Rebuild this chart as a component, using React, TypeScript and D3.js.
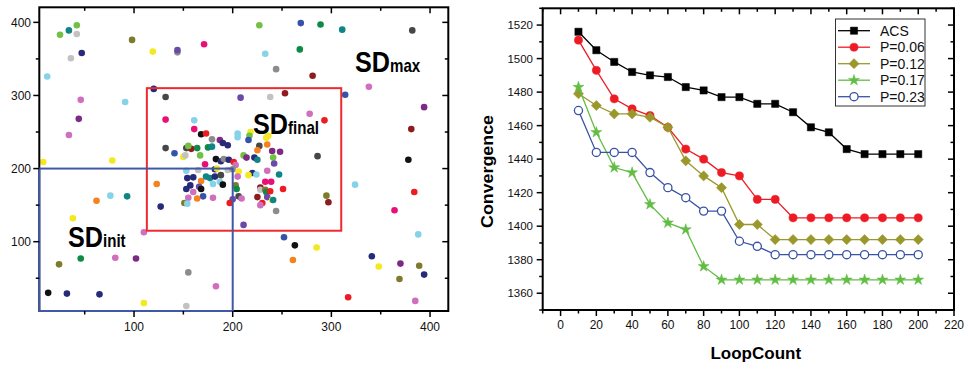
import * as d3 from 'd3'

// ── left panel: scatter of agents and search domains ───────────────
const palette: Record<string, string> = {
  k: '#111111', dg: '#474747', g: '#8c8c8c', lg: '#c2c2c2',
  r: '#ed1c24', dr: '#8e1b1e', dp: '#ea0f77', o: '#cf6fbd',
  pu: '#7d2a85', sp: '#6a4aa9', n: '#262a78', b: '#3553a8',
  t: '#0f8585', gr: '#0e8a46', lgr: '#74c044', ol: '#7e7c2c',
  y: '#f4e81e', or: '#f5821f', lb: '#86d2e8',
}

// [x, y, colour key]
const agents: [number, number, string][] = [
  [25, 383, 'lgr'], [34, 389, 't'], [42, 396, 'lgr'], [42, 384, 'lg'], [36, 351, 'lg'],
  [47, 358, 'n'], [12, 326, 'lb'], [46, 294, 'o'], [44, 268, 'pu'], [34, 246, 'o'],
  [8, 209, 'y'], [98, 376, 'ol'], [119, 360, 'y'], [144, 359, 'g'], [144, 362, 'sp'],
  [171, 370, 'dp'], [91, 291, 'lb'], [78, 211, 'y'], [120, 309, 'n'], [132, 298, 'dg'],
  [132, 267, 'dp'], [132, 228, 'dg'], [227, 396, 'lgr'], [269, 399, 'b'], [289, 397, 'gr'],
  [311, 390, 't'], [382, 389, 'dg'], [233, 357, 'lb'], [268, 363, 'gr'], [244, 336, 'g'],
  [281, 327, 'dr'], [253, 303, 'dr'], [238, 298, 'lg'], [208, 297, 'sp'], [314, 301, 'b'],
  [338, 312, 'o'], [394, 284, 'pu'], [381, 254, 'dr'], [278, 275, 'o'], [293, 266, 'r'],
  [286, 217, 'dg'], [378, 212, 'k'],
  [161, 266, 'lb'], [161, 254, 'dp'], [168, 247, 'k'], [173, 248, 'r'], [179, 240, 'g'],
  [187, 239, 'pu'], [190, 235, 'n'], [195, 232, 'n'], [153, 228, 'dg'], [158, 227, 'dr'],
  [155, 231, 'lgr'], [164, 228, 'gr'], [175, 229, 'gr'], [179, 230, 't'], [141, 221, 'b'],
  [150, 216, 'y'], [152, 218, 'lg'], [167, 218, 'lgr'], [183, 213, 'k'], [188, 210, 'n'],
  [191, 213, 'g'], [196, 212, 'n'], [201, 209, 'r'], [172, 206, 'dp'], [205, 248, 'lb'],
  [205, 243, 'lb'], [218, 250, 'y'], [217, 245, 'lgr'], [216, 239, 'b'], [234, 242, 'y'],
  [236, 245, 'y'], [227, 231, 'dg'], [225, 225, 'or'], [235, 233, 'or'], [240, 224, 'pu'],
  [248, 223, 'pu'], [211, 218, 'lgr'], [214, 215, 'pu'], [222, 215, 'n'], [225, 212, 't'],
  [241, 215, 'lgr'], [242, 207, 'sp'], [203, 205, 'o'], [153, 197, 'lb'], [165, 198, 'lg'],
  [182, 199, 'n'], [184, 200, 'y'], [195, 198, 'lg'], [200, 199, 'g'], [206, 196, 'y'],
  [205, 189, 'o'], [220, 194, 'n'], [224, 192, 'lb'], [216, 191, 'y'], [235, 197, 'o'],
  [247, 192, 't'], [123, 179, 'or'], [154, 187, 'n'], [160, 188, 'n'], [168, 183, 'or'],
  [173, 189, 't'], [177, 187, 't'], [182, 189, 'n'], [188, 191, 'dg'], [180, 179, 'lb'],
  [187, 182, 'lb'], [190, 178, 'k'], [157, 177, 'n'], [166, 175, 'sp'], [168, 172, 'k'],
  [153, 172, 'n'], [160, 168, 'o'], [170, 162, 'b'], [155, 160, 'o'], [164, 159, 'or'],
  [180, 160, 'o'], [151, 153, 'ol'], [154, 152, 'lb'], [127, 148, 'n'], [203, 177, 'ol'],
  [204, 172, 'gr'], [206, 162, 'dg'], [209, 159, 'o'], [200, 158, 'sp'], [197, 153, 'r'],
  [228, 174, 'dr'], [228, 171, 'lg'], [233, 171, 'ol'], [234, 168, 'gr'], [238, 169, 'r'],
  [233, 182, 'dp'], [239, 182, 'dp'], [251, 172, 'r'], [225, 161, 'dr'], [235, 161, 'sp'],
  [230, 153, 'r'], [228, 150, 'o'], [240, 157, 'y'], [241, 157, 't'], [244, 142, 'g'],
  [62, 156, 'or'], [76, 163, 'lb'], [93, 162, 't'], [38, 132, 'y'], [110, 113, 'o'],
  [24, 69, 'ol'], [46, 77, 'gr'], [81, 78, 'o'], [102, 77, 'pu'], [13, 30, 'k'],
  [32, 29, 'n'], [65, 28, 'n'], [155, 58, 'g'], [183, 39, 'o'], [110, 16, 'y'],
  [153, 12, 'lg'], [211, 123, 'sp'], [252, 106, 'b'], [263, 95, 'k'], [261, 75, 'or'],
  [285, 92, 'y'], [295, 163, 'ol'], [297, 154, 'dr'], [324, 178, 'lb'], [384, 168, 'r'],
  [364, 143, 'dp'], [388, 110, 'lb'], [341, 80, 'n'], [348, 66, 'y'], [370, 70, 'pu'],
  [389, 67, 'ol'], [369, 49, 'ol'], [394, 55, 'n'], [317, 24, 'r'], [385, 19, 'o'],
]

// search domains: [x0, x1, y0, y1]
const sdInit = [4, 200, 5.2, 200]
const sdFinal = [113, 310, 115, 310]
const leftTicks = [100, 200, 300, 400]
const leftMinor = [50, 150, 250, 350]

// ── right panel: convergence vs loop count ────────────────────────
const loops = [10, 20, 30, 40, 50, 60, 70, 80, 90, 100, 110, 120, 130, 140, 150, 160, 170, 180, 190, 200]
const acs = [1516, 1505, 1498, 1492, 1490, 1489, 1483, 1481, 1477, 1477, 1473, 1473, 1468, 1459, 1456, 1446, 1443, 1443, 1443, 1443]
const p006 = [1511, 1493, 1476, 1470, 1466, 1459, 1446, 1440, 1432, 1430, 1416, 1416, 1405, 1405, 1405, 1405, 1405, 1405, 1405, 1405]
const p012 = [1479, 1472, 1467, 1467, 1465, 1459, 1439, 1430, 1423, 1401, 1401, 1392, 1392, 1392, 1392, 1392, 1392, 1392, 1392, 1392]
const p017 = [1483, 1456, 1435, 1432, 1413, 1402, 1398, 1376, 1368, 1368, 1368, 1368, 1368, 1368, 1368, 1368, 1368, 1368, 1368, 1368]
const p023 = [1469, 1444, 1444, 1444, 1432, 1423, 1417, 1409, 1409, 1391, 1388, 1383, 1383, 1383, 1383, 1383, 1383, 1383, 1383, 1383]
const seriesNames = ['ACS', 'P=0.06', 'P=0.12', 'P=0.17', 'P=0.23']
const xTicks = d3.range(0, 221, 20)
const yTicks = d3.range(1360, 1521, 20)

const FONT = '"Liberation Sans", Arial, Helvetica, sans-serif'

const series = [
  { name: seriesNames[0], values: acs, color: '#000000', marker: 'square', open: false },
  { name: seriesNames[1], values: p006, color: '#ed1c24', marker: 'circle', open: false },
  { name: seriesNames[2], values: p012, color: '#9a982c', marker: 'diamond', open: false },
  { name: seriesNames[3], values: p017, color: '#62bd45', marker: 'star', open: false },
  { name: seriesNames[4], values: p023, color: '#3953a4', marker: 'circle', open: true },
]

const markerPath = (m: string) => {
  if (m === 'square') return d3.symbol(d3.symbolSquare, 52)()!
  if (m === 'circle') return d3.symbol(d3.symbolCircle, 52)()!
  if (m === 'diamond') return d3.symbol(d3.symbolDiamond2, 66)()!
  return d3.symbol(d3.symbolStar, 38)()!
}

// big bold "SD" with a smaller trailing part, slightly condensed
function Label({ x, y, sub }: { x: number; y: number; sub: string }) {
  return (
    <text transform={`translate(${x},${y}) scale(0.84,1)`} fontFamily={FONT} fontWeight="bold" fill="#000">
      <tspan fontSize={30}>SD</tspan>
      <tspan fontSize={18}>{sub}</tspan>
    </text>
  )
}

export default function App() {
  // left scales
  const lx = d3.scaleLinear().domain([4, 418.5]).range([39.3, 448.3])
  const ly = d3.scaleLinear().domain([5.2, 420.6]).range([311, 7.3])
  // right scales
  const rx = d3.scaleLinear().domain([-10, 220]).range([542.7, 954])
  const ry = d3.scaleLinear().domain([1350, 1530]).range([310, 8.3])

  const line = d3
    .line<number>()
    .x((_, i) => rx(loops[i]))
    .y((d) => ry(d))

  const box = (b: number[]) => ({
    x: lx(b[0]),
    y: ly(b[3]),
    width: lx(b[1]) - lx(b[0]),
    height: ly(b[2]) - ly(b[3]),
  })

  const [L0, L1] = lx.range()
  const [B0, T0] = ly.range()
  const [R0, R1] = rx.range()
  const [RB, RT] = ry.range()

  return (
    <svg width={965} height={365} style={{ position: 'absolute', left: 0, top: 0, background: '#fff' }}>
      {/* ── left panel ── */}
      <g>
        {agents.map(([x, y, c], i) => (
          <circle key={i} cx={lx(x)} cy={ly(y)} r={3.3} fill={palette[c]} />
        ))}
        <rect x={L0} y={T0} width={L1 - L0} height={B0 - T0} fill="none" stroke="#000" strokeWidth={2} />
        <rect {...box(sdFinal)} fill="none" stroke="#ee2a30" strokeWidth={2} />
        <rect {...box(sdInit)} fill="none" stroke="#4058a6" strokeWidth={2} />
        {leftTicks.map((t) => (
          <g key={'lx' + t}>
            <line x1={lx(t)} x2={lx(t)} y1={B0} y2={B0 + 6} stroke="#000" strokeWidth={1.5} />
            <line x1={lx(t)} x2={lx(t)} y1={T0} y2={T0 + 6} stroke="#000" strokeWidth={1.5} />
            <text x={lx(t)} y={331} textAnchor="middle" fontFamily={FONT} fontSize={12} fill="#111">{t}</text>
            <line x1={L0 - 6} x2={L0} y1={ly(t)} y2={ly(t)} stroke="#000" strokeWidth={1.5} />
            <line x1={L1 - 6} x2={L1} y1={ly(t)} y2={ly(t)} stroke="#000" strokeWidth={1.5} />
            <text x={31} y={ly(t)} dy="0.35em" textAnchor="end" fontFamily={FONT} fontSize={12} fill="#111">{t}</text>
          </g>
        ))}
        {leftMinor.map((t) => (
          <g key={'lm' + t}>
            <line x1={lx(t)} x2={lx(t)} y1={B0} y2={B0 + 3.5} stroke="#000" strokeWidth={1.5} />
            <line x1={lx(t)} x2={lx(t)} y1={T0} y2={T0 + 3.5} stroke="#000" strokeWidth={1.5} />
            <line x1={L0 - 3.5} x2={L0} y1={ly(t)} y2={ly(t)} stroke="#000" strokeWidth={1.5} />
            <line x1={L1 - 3.5} x2={L1} y1={ly(t)} y2={ly(t)} stroke="#000" strokeWidth={1.5} />
          </g>
        ))}
        <Label x={355} y={71.5} sub="max" />
        <Label x={253} y={134} sub="final" />
        <Label x={68} y={246.5} sub="init" />
      </g>

      {/* ── right panel ── */}
      <g>
        <rect x={R0} y={RT} width={R1 - R0} height={RB - RT} fill="none" stroke="#000" strokeWidth={2} />
        {d3.range(-10, 221, 10).map((t) => {
          const major = t % 20 === 0
          const len = major ? 6 : 3.5
          return (
            <g key={'rx' + t}>
              <line x1={rx(t)} x2={rx(t)} y1={RB} y2={RB + len} stroke="#000" strokeWidth={1.5} />
              <line x1={rx(t)} x2={rx(t)} y1={RT} y2={RT + len} stroke="#000" strokeWidth={1.5} />
            </g>
          )
        })}
        {xTicks.map((t) => (
          <text key={'rxl' + t} x={rx(t)} y={329} textAnchor="middle" fontFamily={FONT} fontSize={12} fill="#111">{t}</text>
        ))}
        {d3.range(1350, 1531, 10).map((t) => {
          const major = t % 20 === 0
          const len = major ? 6 : 3.5
          return (
            <g key={'ry' + t}>
              <line x1={R0 - len} x2={R0} y1={ry(t)} y2={ry(t)} stroke="#000" strokeWidth={1.5} />
              <line x1={R1 - len} x2={R1} y1={ry(t)} y2={ry(t)} stroke="#000" strokeWidth={1.5} />
            </g>
          )
        })}
        {yTicks.map((t) => (
          <text key={'ryl' + t} x={533} y={ry(t)} dy="0.35em" textAnchor="end" fontFamily={FONT} fontSize={11.5} fill="#111">{t}</text>
        ))}

        {series.map((s) => (
          <g key={s.name}>
            <path d={line(s.values)!} fill="none" stroke={s.color} strokeWidth={1.3} />
            {s.values.map((v, i) => (
              <path
                key={i}
                d={markerPath(s.marker)}
                transform={`translate(${rx(loops[i])},${ry(v)})`}
                fill={s.open ? '#fff' : s.color}
                stroke={s.color}
                strokeWidth={s.open ? 1.3 : 0.5}
              />
            ))}
          </g>
        ))}

        {/* legend */}
        <rect x={835.5} y={19} width={89.5} height={87} fill="#fff" stroke="#333" strokeWidth={1} />
        {series.map((s, i) => {
          const yy = 30.7 + i * 16.5
          return (
            <g key={'lg' + s.name}>
              <line x1={838} x2={870} y1={yy} y2={yy} stroke={s.color} strokeWidth={1.3} />
              <path
                d={markerPath(s.marker)}
                transform={`translate(854,${yy})`}
                fill={s.open ? '#fff' : s.color}
                stroke={s.color}
                strokeWidth={s.open ? 1.3 : 0.5}
              />
              <text x={880} y={yy} dy="0.36em" fontFamily={FONT} fontSize={14} fill="#111">{s.name}</text>
            </g>
          )
        })}

        <text
          transform="translate(493,171.5) rotate(-90)"
          textAnchor="middle"
          fontFamily={FONT}
          fontWeight="bold"
          fontSize={17}
          textLength={113}
          lengthAdjust="spacingAndGlyphs"
        >
          Convergence
        </text>
        <text x={755.8} y={358.5} textAnchor="middle" fontFamily={FONT} fontWeight="bold" fontSize={17}>
          LoopCount
        </text>
      </g>
    </svg>
  )
}
